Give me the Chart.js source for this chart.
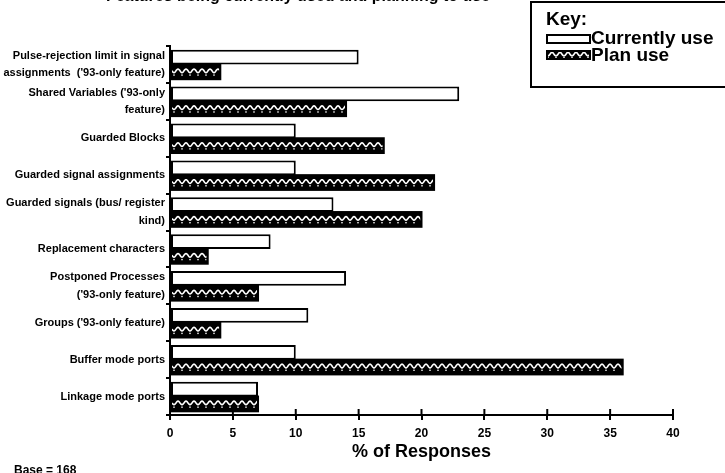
<!DOCTYPE html>
<html>
<head>
<meta charset="utf-8">
<script src="https://cdn.jsdelivr.net/npm/chart.js@4.4.1/dist/chart.umd.min.js"></script>
<style>
  html, body { margin: 0; padding: 0; background: #fff; }
  body { width: 725px; height: 473px; overflow: hidden; position: relative; font-family: "Liberation Sans", Arial, sans-serif; }
  #chart { position: absolute; left: 0; top: 0; }
  .title { position: absolute; right: 235px; top: -12px; font-weight: bold; font-size: 16px; line-height: 16px; white-space: nowrap; }
  .base { position: absolute; left: 14px; top: 464px; font-weight: bold; font-size: 12px; line-height: 12px; }
  .key { position: absolute; left: 530px; top: 1px; width: 200px; height: 83px; border: 2px solid #000; font-weight: bold; font-size: 19px; }
  .key div { position: absolute; white-space: nowrap; line-height: 20px; }
  .sw { position: absolute; left: 14px; width: 41px; height: 6px; border: 2px solid #000; background: #fff; }
</style>
</head>
<body>
<canvas id="chart" width="725" height="473"></canvas>
<div class="title">Features being currently used and planning to use</div>
<div class="base">Base = 168</div>
<div class="key">
  <div style="left:14px; top:6px;">Key:</div>
  <span class="sw" style="top:31px;"></span>
  <div style="left:59px; top:25px;">Currently use</div>
  <canvas id="swPlan" width="45" height="10" style="position:absolute; left:14px; top:47px;"></canvas>
  <div style="left:59px; top:42px;">Plan use</div>
</div>
<script>
// Dados
const categorias = [
    ['Pulse-rejection limit in signal', "assignments  ('93-only feature)"],
    ["Shared Variables ('93-only", 'feature)'],
    'Guarded Blocks',
    'Guarded signal assignments',
    ['Guarded signals (bus/ register', 'kind)'],
    'Replacement characters',
    ['Postponed Processes', "('93-only feature)"],
    "Groups ('93-only feature)",
    'Buffer mode ports',
    'Linkage mode ports'
];
const usoAtual = [15, 23, 10, 10, 13, 8, 14, 11, 10, 7];
const planoUso = [4, 14, 17, 21, 20, 3, 7, 4, 36, 7];
const ticksX = [0, 5, 10, 15, 20, 25, 30, 35, 40];

// Desenha a onda branca do padrao "Plan use" dentro de um retangulo
function desenharOnda(ctx, left, top, right, bottom) {
    const h = bottom - top;
    ctx.save();
    ctx.beginPath();
    ctx.rect(left, top, right - left, h);
    ctx.clip();
    ctx.fillStyle = '#000';
    ctx.fillRect(left, top, right - left, h);
    const yOnda = top + h * 0.42;
    ctx.strokeStyle = '#fff';
    ctx.lineWidth = 1.6;
    ctx.beginPath();
    for (let x = left; x <= right + 1; x += 0.5) {
        const y = yOnda + 1.8 * Math.sin((x - left) * Math.PI / 4);
        if (x === left) ctx.moveTo(x, y); else ctx.lineTo(x, y);
    }
    ctx.stroke();
    ctx.fillStyle = '#fff';
    for (let x = left + 2; x < right; x += 8) {
        ctx.fillRect(x - 0.7, top + h * 0.7, 1.4, 1.4);
    }
    ctx.restore();
}

const pluginOnda = {
    id: 'onda',
    afterDatasetDraw(chart, args) {
        if (args.index !== 1) return;
        const ctx = chart.ctx;
        chart.getDatasetMeta(1).data.forEach(bar => {
            const p = bar.getProps(['x', 'y', 'base', 'height'], true);
            const top = p.y - p.height / 2;
            const bottom = p.y + p.height / 2;
            desenharOnda(ctx, p.base + 1, top + 1, p.x - 1, bottom - 1);
            ctx.save();
            ctx.strokeStyle = '#000';
            ctx.lineWidth = 2;
            ctx.strokeRect(p.base, top, p.x - p.base, p.height);
            ctx.restore();
        });
    }
};

// Marcas do eixo x que cruzam a linha
const pluginMarcas = {
    id: 'marcas',
    afterDraw(chart) {
        const ctx = chart.ctx;
        const sx = chart.scales.x;
        ctx.save();
        ctx.strokeStyle = '#000';
        ctx.lineWidth = 2;
        ticksX.forEach(v => {
            const px = sx.getPixelForValue(v);
            ctx.beginPath();
            ctx.moveTo(px, sx.top - 6);
            ctx.lineTo(px, sx.top);
            ctx.stroke();
        });
        ctx.restore();
    }
};

const fonteRotulo = { family: 'Liberation Sans', size: 11, weight: 'bold', lineHeight: 1.6 };

new Chart(document.getElementById('chart'), {
    type: 'bar',
    data: {
        labels: categorias,
        datasets: [{
            label: 'Currently use',
            data: usoAtual,
            backgroundColor: '#fff',
            borderColor: '#000',
            borderWidth: 2,
            borderSkipped: false,
            categoryPercentage: 0.8,
            barPercentage: 1.0
        }, {
            label: 'Plan use',
            data: planoUso,
            backgroundColor: '#000',
            borderColor: '#000',
            borderWidth: 2,
            borderSkipped: false,
            categoryPercentage: 0.8,
            barPercentage: 1.0
        }]
    },
    options: {
        indexAxis: 'y',
        responsive: false,
        animation: false,
        layout: { padding: { top: 46, right: 52, left: 0, bottom: 0 } },
        plugins: {
            legend: { display: false },
            tooltip: { enabled: false }
        },
        scales: {
            x: {
                min: 0,
                max: 40,
                afterBuildTicks: s => { s.ticks = ticksX.map(v => ({ value: v })); },
                afterFit: s => { s.height = 58; },
                border: { color: '#000', width: 2 },
                grid: { drawOnChartArea: false, color: '#000', lineWidth: 2, tickLength: 5 },
                ticks: { color: '#000', padding: 6, font: { family: 'Liberation Sans', size: 12, weight: 'bold' } },
                title: {
                    display: true,
                    text: '% of Responses',
                    color: '#000',
                    padding: { top: 0, bottom: 10 },
                    font: { family: 'Liberation Sans', size: 18, weight: 'bold' }
                }
            },
            y: {
                afterFit: s => { s.width = 170; },
                border: { color: '#000', width: 2 },
                grid: { offset: true, drawOnChartArea: false, color: '#000', lineWidth: 2, tickLength: 4 },
                ticks: { color: '#000', padding: 1, autoSkip: false, font: fonteRotulo }
            }
        }
    },
    plugins: [pluginOnda, pluginMarcas]
});

// Amostra da legenda "Plan use"
const sw = document.getElementById('swPlan').getContext('2d');
desenharOnda(sw, 0, 0, 45, 10);
sw.strokeStyle = '#000';
sw.lineWidth = 2;
sw.strokeRect(1, 1, 43, 8);
</script>
</body>
</html>
